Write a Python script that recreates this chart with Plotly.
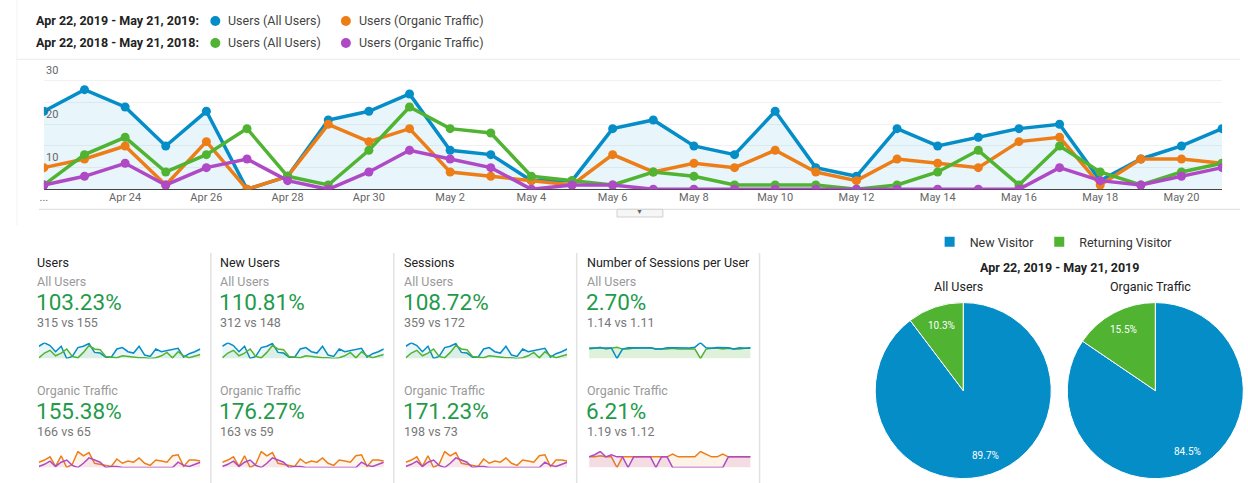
import math
import plotly.graph_objects as go

W, H = 1248, 483

# ---------------- data ----------------
dates = ["Apr 22", "Apr 23", "Apr 24", "Apr 25", "Apr 26", "Apr 27", "Apr 28", "Apr 29", "Apr 30",
         "May 1", "May 2", "May 3", "May 4", "May 5", "May 6", "May 7", "May 8", "May 9", "May 10",
         "May 11", "May 12", "May 13", "May 14", "May 15", "May 16", "May 17", "May 18", "May 19",
         "May 20", "May 21"]

users_2019_all = [18, 23, 19, 10, 18, 0, 3, 16, 18, 22, 9, 8, 2, 2, 14, 16, 10, 8, 18, 5,
                  3, 14, 10, 12, 14, 15, 2, 7, 10, 14]
users_2019_org = [5, 7, 10, 1, 11, 0, 3, 15, 11, 14, 4, 3, 2, 1, 8, 4, 6, 5, 9, 4,
                  2, 7, 6, 5, 11, 12, 1, 7, 7, 6]
users_2018_all = [1, 8, 12, 4, 8, 14, 3, 1, 9, 19, 14, 13, 3, 2, 1, 4, 3, 1, 1, 1,
                  0, 1, 4, 9, 1, 10, 4, 1, 4, 6]
users_2018_org = [1, 3, 6, 1, 5, 7, 2, 0, 4, 9, 7, 5, 0, 1, 1, 0, 0, 0, 0, 0,
                  0, 0, 0, 0, 0, 5, 2, 1, 3, 5]

spu_2019_all = [1.12, 1.13, 1.16, 1.1, 1.11, 0, 1.0, 1.13, 1.11, 1.14, 1.11, 1.13, 1.0, 1.0, 1.14,
                1.13, 1.1, 1.13, 1.11, 1.2, 1.67, 1.14, 1.1, 1.17, 1.14, 1.13, 1.0, 1.14, 1.1, 1.14]
spu_2018_all = [1.0, 1.13, 1.2, 1.0, 1.13, 1.2, 1.0, 1.0, 1.11, 1.16, 1.14, 1.15, 1.0, 1.0, 1.0,
                1.1, 1.0, 1.0, 1.0, 1.0, 0, 1.0, 1.1, 1.11, 1.0, 1.1, 1.0, 1.0, 1.1, 1.1]
spu_2019_org = [1.0, 1.0, 1.1, 1.0, 1.0, 0, 1.0, 1.0, 1.0, 1.0, 1.0, 1.0, 1.0, 1.0, 1.0,
                1.25, 1.0, 1.0, 1.0, 1.0, 1.5, 1.25, 1.0, 1.0, 1.25, 1.0, 1.0, 1.0, 1.0, 1.0]
spu_2018_org = [1.0, 1.2, 1.5, 1.0, 1.2, 1.0, 1.0, 0, 1.0, 1.0, 1.0, 1.0, 0, 1.0, 1.0,
                0, 0, 0, 0, 0, 0, 0, 0, 0, 0, 1.0, 1.0, 1.0, 1.0, 1.0]

range_2019 = "Apr 22, 2019 - May 21, 2019"
range_2018 = "Apr 22, 2018 - May 21, 2018"
series_names = ["Users (All Users)", "Users (Organic Traffic)"]

metric_titles = ["Users", "New Users", "Sessions", "Number of Sessions per User"]
seg_names = ["All Users", "Organic Traffic"]
metric_pct_all = ["103.23%", "110.81%", "108.72%", "2.70%"]
metric_vs_all = ["315 vs 155", "312 vs 148", "359 vs 172", "1.14 vs 1.11"]
metric_pct_org = ["155.38%", "176.27%", "171.23%", "6.21%"]
metric_vs_org = ["166 vs 65", "163 vs 59", "198 vs 73", "1.19 vs 1.12"]

pie_labels = ["New Visitor", "Returning Visitor"]
pie_all_users = [89.7, 10.3]
pie_organic = [84.5, 15.5]

# ---------------- style ----------------
BLUE, ORANGE, GREEN, PURPLE = "#058dc7", "#ed7e17", "#50b432", "#af49c5"
FONT = "Roboto"


def px(x):
    return x / W


def py(y):
    return 1 - y / H


fig = go.Figure()

# ---------------- main chart ----------------
main_series = [
    (users_2019_all, BLUE, "tozeroy"),
    (users_2019_org, ORANGE, None),
    (users_2018_all, GREEN, None),
    (users_2018_org, PURPLE, None),
]
for vals, col, fill in main_series:
    fig.add_trace(go.Scatter(
        x=dates, y=vals, mode="lines+markers",
        line=dict(color=col, width=3.5),
        marker=dict(color=col, size=9),
        fill=fill, fillcolor="rgba(5,141,199,0.09)" if fill else None,
        showlegend=False, hoverinfo="skip", xaxis="x", yaxis="y"))

tickvals = dates[0::2]
ticktext = ["..."] + dates[2::2]

layout = dict(
    width=W, height=H, margin=dict(l=0, r=0, t=0, b=0),
    paper_bgcolor="white", plot_bgcolor="rgba(0,0,0,0)",
    font=dict(family=FONT, color="#333"),
    xaxis=dict(domain=[px(40), px(1222)], range=[0, 29], type="category",
               tickvals=tickvals, ticktext=ticktext, showgrid=False,
               showline=False, zeroline=False, ticks="",
               tickfont=dict(size=11, color="#666"), anchor="y"),
    yaxis=dict(domain=[py(189.3), py(59.3)], range=[0, 30], dtick=5,
               showgrid=True, gridcolor="#f1f1f1", gridwidth=1,
               showticklabels=False, zeroline=True, zerolinecolor="#444",
               zerolinewidth=1.2, anchor="x"),
)

# ---------------- sparklines ----------------
col_x = [35, 219, 403, 587]
spark_w = 162
spark_rows = [(342.5, 358.5), (451, 467.5)]

spark_sets = []
for c in range(4):
    if c < 3:
        top = [(users_2019_all, BLUE, "rgba(5,141,199,0.08)"),
               (users_2018_all, GREEN, "rgba(80,180,50,0.10)")]
        bot = [(users_2019_org, ORANGE, "rgba(237,126,23,0.08)"),
               (users_2018_org, PURPLE, "rgba(175,73,197,0.08)")]
        rtop, rbot = [0, 23.5], [0, 15.5]
    else:
        top = [(spu_2018_all, GREEN, "rgba(80,180,50,0.18)"),
               (spu_2019_all, BLUE, "rgba(5,141,199,0.0)")]
        bot = [(spu_2019_org, ORANGE, "rgba(237,126,23,0.10)"),
               (spu_2018_org, PURPLE, "rgba(175,73,197,0.12)")]
        rtop, rbot = [0, 1.7], [0, 1.55]
    spark_sets.append((c, 0, top, rtop))
    spark_sets.append((c, 1, bot, rbot))

ax = 2
for c, r, series, yr in spark_sets:
    y0, y1 = spark_rows[r]
    layout[f"xaxis{ax}"] = dict(domain=[px(col_x[c]), px(col_x[c] + spark_w)], range=[0, 29],
                                type="category", visible=False, anchor=f"y{ax}")
    layout[f"yaxis{ax}"] = dict(domain=[py(y1), py(y0)], range=yr, visible=False,
                                anchor=f"x{ax}")
    for vals, col, fc in series:
        fig.add_trace(go.Scatter(
            x=dates, y=vals, mode="lines", line=dict(color=col, width=1.5),
            fill="tozeroy", fillcolor=fc, showlegend=False, hoverinfo="skip",
            xaxis=f"x{ax}", yaxis=f"y{ax}"))
    ax += 1

# ---------------- pies ----------------
ann = []
shapes = []

R = 88.3
PIE_CY = 390.6
for vals, cx in [(pie_all_users, 962.3), (pie_organic, 1155)]:
    fig.add_trace(go.Pie(
        labels=pie_labels, values=vals, sort=False, direction="clockwise", rotation=0,
        marker=dict(colors=[BLUE, GREEN], line=dict(color="white", width=1)),
        textinfo="none",
        domain=dict(x=[px(cx - R), px(cx + R)], y=[py(PIE_CY + R), py(PIE_CY - R)]),
        hoverinfo="skip", showlegend=True))
    # slice labels placed along each slice's bisector, as in the original
    total = sum(vals)
    start = 0.0
    for v in vals:
        mid = (start + v / 2) / total * 2 * math.pi
        start += v
        lx = cx + 0.78 * R * math.sin(mid)
        ly = PIE_CY - 0.78 * R * math.cos(mid)
        ann.append(dict(x=px(lx), y=py(ly), xref="paper", yref="paper",
                        text=f"{v:.1f}%", showarrow=False, xanchor="center", yanchor="middle",
                        font=dict(size=10, color="white", family=FONT)))

layout["legend"] = dict(orientation="h", x=px(1053), y=py(242), xanchor="center",
                        yanchor="middle", font=dict(size=12.5, color="#333", family=FONT),
                        itemsizing="constant", bgcolor="rgba(0,0,0,0)", traceorder="normal")


def text(x, y, s, size=12.5, color="#333", bold=False, xanchor="left"):
    shift = -2 if xanchor == "left" else 0
    ann.append(dict(x=px(x), y=py(y), xref="paper", yref="paper", text=f"<b>{s}</b>" if bold else s,
                    showarrow=False, xanchor=xanchor, yanchor="middle", xshift=shift,
                    font=dict(size=size, color=color, family=FONT)))


# top legend
for row, (rng, cols) in enumerate([(range_2019, [BLUE, ORANGE]), (range_2018, [GREEN, PURPLE])]):
    yy = 21 + 22 * row
    text(32, yy, rng + ":", size=12.5, color="#222", bold=True)
    for i, (dx, tx) in enumerate([(212, 225), (343, 356)]):
        shapes.append(dict(type="circle", xref="paper", yref="paper",
                           x0=px(dx - 5), x1=px(dx + 5), y0=py(yy + 5), y1=py(yy - 5),
                           fillcolor=cols[i], line=dict(width=0)))
        text(tx, yy, series_names[i], size=12.5, color="#444")

# y-axis labels of main chart
for v in [30, 20, 10]:
    ann.append(dict(x=px(40), y=v, xref="paper", yref="y", text=str(v), showarrow=False,
                    xanchor="left", yanchor="top", yshift=-3,
                    font=dict(size=11, color="#666", family=FONT)))

# main chart frame lines
shapes.append(dict(type="line", xref="paper", yref="paper", x0=px(35), x1=px(1240),
                   y0=py(209.3), y1=py(209.3), line=dict(color="#dcdcdc", width=1)))
shapes.append(dict(type="line", xref="paper", yref="paper", x0=px(13), x1=px(13),
                   y0=py(0), y1=py(225), line=dict(color="#f2f2f2", width=1)))
shapes.append(dict(type="line", xref="paper", yref="paper", x0=px(13), x1=px(1240),
                   y0=py(59.3), y1=py(59.3), line=dict(color="#ececec", width=1)))
shapes.append(dict(type="rect", xref="paper", yref="paper", x0=px(615), x1=px(661),
                   y0=py(217), y1=py(209.3), fillcolor="#f6f6f6", line=dict(color="#d0d0d0", width=1)))
text(638, 212.5, "▼", size=7, color="#666", xanchor="center")

# scorecards
for c in range(4):
    x0 = col_x[c] - 2
    text(x0, 262, metric_titles[c], size=12.5, color="#222")
    text(x0, 281, seg_names[0], size=12.5, color="#999")
    text(x0 - 1, 302, metric_pct_all[c], size=22.5, color="#1f9b4b")
    text(x0, 322.5, metric_vs_all[c], size=12.5, color="#777")
    text(x0, 390, seg_names[1], size=12.5, color="#999")
    text(x0 - 1, 411, metric_pct_org[c], size=22.5, color="#1f9b4b")
    text(x0, 431.5, metric_vs_org[c], size=12.5, color="#777")

for sx in [207.5, 391, 574.5, 758]:
    shapes.append(dict(type="line", xref="paper", yref="paper", x0=px(sx), x1=px(sx),
                       y0=py(253), y1=py(483), line=dict(color="#e2e2e2", width=1.5)))

# pie titles
text(1059, 267, range_2019, size=12.5, color="#222", bold=True, xanchor="center")
text(957.7, 286, seg_names[0], size=12.5, color="#222", xanchor="center")
text(1150, 286, seg_names[1], size=12.5, color="#222", xanchor="center")

layout["annotations"] = ann
layout["shapes"] = shapes
fig.update_layout(**layout)

fig.write_html("out.html", config={"displayModeBar": False},
               post_script="document.body.style.margin='0';document.body.style.overflow='hidden';")
